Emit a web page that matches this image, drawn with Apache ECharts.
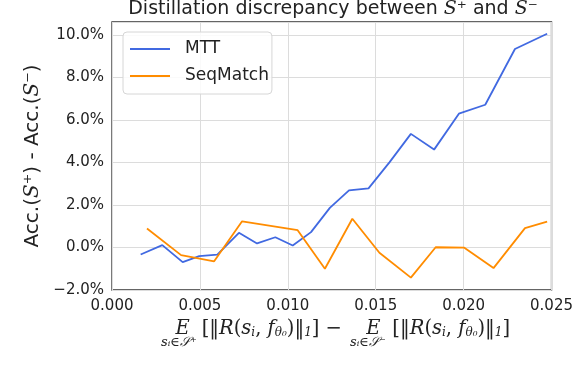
<!DOCTYPE html>
<html>
<head>
<meta charset="utf-8">
<script src="https://cdn.jsdelivr.net/npm/echarts@6/dist/echarts.min.js"></script>
<style>
html, body { margin: 0; padding: 0; background: #fff; }
#chart { width: 576px; height: 376px; }
</style>
</head>
<body>
<div id="chart"></div>
<script>
// x = E[...] difference, y = Acc.(S+) - Acc.(S-) in %
var mttX = [0.00163, 0.00286, 0.00402, 0.00496, 0.00599, 0.00722, 0.00825, 0.00929, 0.01028, 0.01132,
	0.01239, 0.01348, 0.01459, 0.01578, 0.01700, 0.01832, 0.01973, 0.02123, 0.02292, 0.02475];
var mttY = [-0.33, 0.11, -0.69, -0.41, -0.34, 0.69, 0.19, 0.48, 0.09, 0.72,
	1.86, 2.68, 2.78, 4.00, 5.34, 4.60, 6.29, 6.71, 9.33, 10.05];
var seqX = [0.00199, 0.00393, 0.00581, 0.00740, 0.01056, 0.01211, 0.01367, 0.01521, 0.01700, 0.01841,
	0.02004, 0.02170, 0.02349, 0.02475];
var seqY = [0.89, -0.36, -0.65, 1.23, 0.81, -1.00, 1.35, -0.25, -1.42, 0.01,
	-0.01, -0.97, 0.91, 1.21];
var seriesNames = ['MTT', 'SeqMatch'];

var pairs = function (xs, ys) {
	var res = [];
	for (var i = 0; i < xs.length; i++) {
		res.push([xs[i], ys[i]]);
	}
	return res;
};

var sans = 'DejaVu Sans';
var serif = 'DejaVu Serif';
var chart = echarts.init(document.getElementById('chart'));

chart.setOption({
	backgroundColor: '#fff',
	animation: false,
	title: {
		text: 'Distillation discrepancy between {s|S}⁺ and {s|S}⁻',
		left: 333,
		textAlign: 'center',
		top: 0,
		padding: 0,
		textStyle: {
			fontFamily: sans,
			fontSize: 19,
			fontWeight: 'normal',
			color: '#222',
			rich: {
				s: { fontFamily: serif, fontStyle: 'italic', fontSize: 19, color: '#222' }
			}
		}
	},
	legend: {
		orient: 'vertical',
		left: 123,
		top: 32,
		padding: [7, 3, 8, 7],
		itemGap: 7,
		itemWidth: 40,
		itemHeight: 2,
		icon: 'rect',
		backgroundColor: 'rgba(255,255,255,0.85)',
		borderColor: '#d6d6d6',
		borderWidth: 1,
		borderRadius: 4,
		textStyle: {
			fontFamily: sans,
			fontSize: 17,
			color: '#222',
			lineHeight: 20,
			padding: [0, 0, 0, 10]
		},
		data: seriesNames
	},
	grid: {
		left: 112,
		right: 21,
		top: 22,
		bottom: 86,
		show: true,
		borderColor: '#333',
		borderWidth: 1.3
	},
	xAxis: {
		type: 'value',
		min: 0,
		max: 0.025,
		interval: 0.005,
		axisLine: { show: false },
		axisTick: { show: false },
		splitLine: { lineStyle: { color: '#dcdcdc', width: 1 } },
		axisLabel: {
			fontFamily: sans,
			fontSize: 15,
			color: '#222',
			margin: 9,
			formatter: function (v) { return v.toFixed(3); }
		},
		name: '{e|E}{sp|}[‖{i|R}({i|s}{sub|i}, {i|f}{sub|θ₀})‖{sub|1}] − {sp2|}{e|E}{sp|}[‖{i|R}({i|s}{sub|i}, {i|f}{sub|θ₀})‖{sub|1}]',
		nameLocation: 'middle',
		nameGap: 29,
		nameTextStyle: {
			fontFamily: serif,
			fontSize: 19.5,
			color: '#222',
			padding: [0, 0, 0, 22],
			rich: {
				e: { fontFamily: serif, fontStyle: 'italic', fontSize: 19.5, color: '#222' },
				i: { fontFamily: serif, fontStyle: 'italic', fontSize: 19.5, color: '#222' },
				sub: { fontFamily: serif, fontStyle: 'italic', fontSize: 12, color: '#222', verticalAlign: 'bottom', padding: [7, 0, 0, 0] },
				sp: { width: 12 },
				sp2: { width: 18 }
			}
		}
	},
	yAxis: {
		type: 'value',
		min: -2,
		max: 10.6,
		interval: 2,
		axisLine: { show: false },
		axisTick: { show: false },
		splitLine: { lineStyle: { color: '#dcdcdc', width: 1 } },
		axisLabel: {
			fontFamily: sans,
			fontSize: 15,
			color: '#222',
			margin: 8,
			showMaxLabel: false,
			formatter: function (v) {
				return (v < 0 ? '−' + (-v).toFixed(1) : v.toFixed(1)) + '%';
			}
		},
		name: 'Acc.({s|S}⁺) - Acc.({s|S}⁻)',
		nameLocation: 'middle',
		nameGap: 56,
		nameTextStyle: {
			fontFamily: sans,
			fontSize: 20,
			color: '#222',
			rich: {
				s: { fontFamily: serif, fontStyle: 'italic', fontSize: 20, color: '#222' }
			}
		}
	},
	graphic: [
		{
			type: 'text',
			left: 161,
			top: 336,
			style: { text: 'sᵢ∈𝒮⁺', font: 'italic 13px "DejaVu Serif"', fill: '#222' }
		},
		{
			type: 'text',
			left: 350,
			top: 336,
			style: { text: 'sᵢ∈𝒮⁻', font: 'italic 13px "DejaVu Serif"', fill: '#222' }
		}
	],
	series: [
		{
			name: seriesNames[0],
			type: 'line',
			data: pairs(mttX, mttY),
			symbol: 'none',
			lineStyle: { color: '#4169e1', width: 1.8 },
			itemStyle: { color: '#4169e1' }
		},
		{
			name: seriesNames[1],
			type: 'line',
			data: pairs(seqX, seqY),
			symbol: 'none',
			lineStyle: { color: '#ff8c00', width: 1.8 },
			itemStyle: { color: '#ff8c00' }
		}
	]
});
</script>
</body>
</html>
